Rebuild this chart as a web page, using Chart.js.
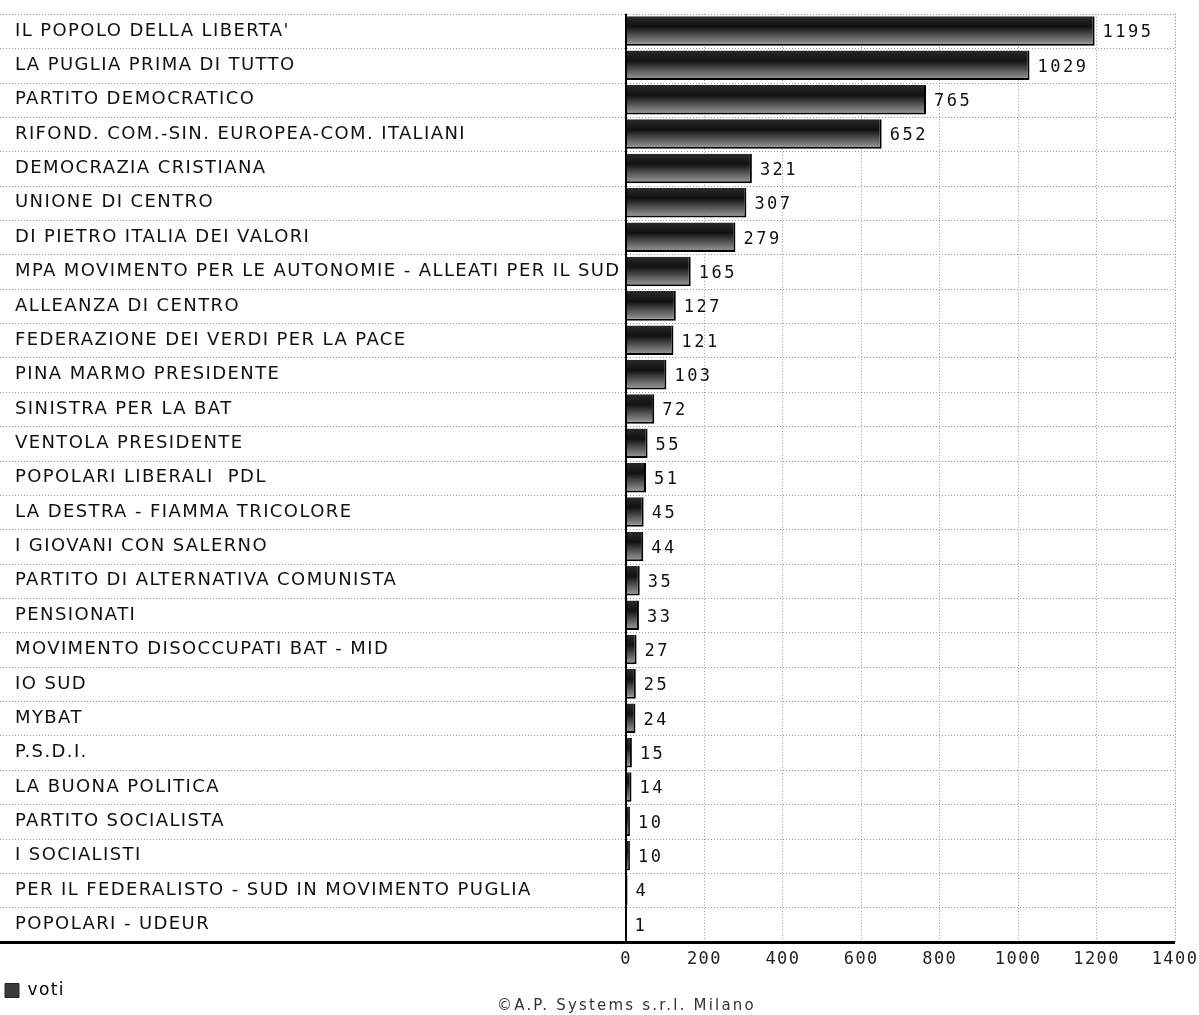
<!DOCTYPE html>
<html>
<head>
<meta charset="utf-8">
<script src="https://cdn.jsdelivr.net/npm/chart.js@4/dist/chart.umd.min.js"></script>
<style>
html,body{margin:0;padding:0;background:#fff;}
#wrap{position:relative;width:1199px;height:1015px;}
#footer{position:absolute;left:497px;top:996px;font-family:"DejaVu Sans",sans-serif;font-size:15px;color:#333;letter-spacing:2.2px;white-space:nowrap;}
</style>
</head>
<body>
<div id="wrap">
<canvas id="c" width="1199" height="1015"></canvas>
<div id="footer">©A.P. Systems s.r.l. Milano</div>
</div>
<script>
const categories = [
  "IL POPOLO DELLA LIBERTA'",
  "LA PUGLIA PRIMA DI TUTTO",
  "PARTITO DEMOCRATICO",
  "RIFOND. COM.-SIN. EUROPEA-COM. ITALIANI",
  "DEMOCRAZIA CRISTIANA",
  "UNIONE DI CENTRO",
  "DI PIETRO ITALIA DEI VALORI",
  "MPA MOVIMENTO PER LE AUTONOMIE - ALLEATI PER IL SUD",
  "ALLEANZA DI CENTRO",
  "FEDERAZIONE DEI VERDI PER LA PACE",
  "PINA MARMO PRESIDENTE",
  "SINISTRA PER LA BAT",
  "VENTOLA PRESIDENTE",
  "POPOLARI LIBERALI  PDL",
  "LA DESTRA - FIAMMA TRICOLORE",
  "I GIOVANI CON SALERNO",
  "PARTITO DI ALTERNATIVA COMUNISTA",
  "PENSIONATI",
  "MOVIMENTO DISOCCUPATI BAT - MID",
  "IO SUD",
  "MYBAT",
  "P.S.D.I.",
  "LA BUONA POLITICA",
  "PARTITO SOCIALISTA",
  "I SOCIALISTI",
  "PER IL FEDERALISTO - SUD IN MOVIMENTO PUGLIA",
  "POPOLARI - UDEUR"
];
const voti = [1195,1029,765,652,321,307,279,165,127,121,103,72,55,51,45,44,35,33,27,25,24,15,14,10,10,4,1];
const seriesName = "voti";
const xTicks = [0,200,400,600,800,1000,1200,1400];

const ctx = document.getElementById('c').getContext('2d');

function barGradient(context){
  const chart = context.chart;
  const ya = chart.scales && chart.scales.y;
  if(!ya || context.dataIndex === undefined) return '#333';
  const yc = ya.getPixelForValue(context.dataIndex);
  const row = Math.abs(ya.getPixelForValue(1) - ya.getPixelForValue(0));
  const h = row * 0.86;
  const top = yc - h/2, bot = yc + h/2;
  if(!isFinite(top) || !isFinite(bot) || top === bot) return '#333';
  const g = chart.ctx.createLinearGradient(0, top, 0, bot);
  g.addColorStop(0, '#2a2a2a');
  g.addColorStop(0.35, '#111');
  g.addColorStop(1, '#a0a0a0');
  return g;
}

const spacingPlugin = {
  id:'spacing',
  beforeDraw(chart){ chart.ctx.letterSpacing = '1.4px'; },
  afterLayout(chart){ if(chart.legend){ chart.legend.left = 1; } }
};

const gridPlugin = {
  id:'fullgrid',
  beforeDatasetsDraw(chart){
    const c = chart.ctx, ya = chart.scales.y, ca = chart.chartArea;
    c.save();
    c.strokeStyle = '#9a9a9a';
    c.lineWidth = 1;
    c.setLineDash([1,2]);
    for(let i=0;i<categories.length;i++){
      const y = Math.round(ya.getPixelForValue(i-0.5))+0.5;
      c.beginPath(); c.moveTo(0,y); c.lineTo(ca.right,y); c.stroke();
    }
    c.beginPath(); c.moveTo(ca.right+0.5,ca.top); c.lineTo(ca.right+0.5,ca.bottom); c.stroke();
    c.restore();
  },
  afterDatasetsDraw(chart){
    const c = chart.ctx, ca = chart.chartArea, meta = chart.getDatasetMeta(0);
    c.save();
    c.setLineDash([]);
    c.strokeStyle = '#000';
    c.lineWidth = 2;
    c.beginPath(); c.moveTo(ca.left, ca.top); c.lineTo(ca.left, ca.bottom); c.stroke();
    c.lineWidth = 3;
    c.beginPath(); c.moveTo(0, ca.bottom+1); c.lineTo(ca.right, ca.bottom+1); c.stroke();
    c.fillStyle = '#111';
    c.font = '17px "DejaVu Sans Mono", monospace';
    c.letterSpacing = '2.5px';
    c.textBaseline = 'middle';
    c.textAlign = 'left';
    meta.data.forEach((bar,i)=>{
      c.fillText(String(voti[i]), bar.x + 8, bar.y + 2);
    });
    c.restore();
  }
};

new Chart(ctx, {
  type:'bar',
  data:{
    labels:categories,
    datasets:[{
      label:seriesName,
      data:voti,
      backgroundColor:barGradient,
      borderColor:'#000',
      borderWidth:{top:0,left:0,right:2,bottom:2},
      borderSkipped:false,
      barPercentage:0.86,
      categoryPercentage:1
    }]
  },
  options:{
    indexAxis:'y',
    responsive:false,
    animation:false,
    devicePixelRatio:1,
    layout:{padding:{left:15,right:24,top:12,bottom:6}},
    scales:{
      x:{
        min:0,max:1400,
        afterBuildTicks(scale){ scale.ticks = xTicks.map(v=>({value:v})); },
        afterFit(scale){ scale.paddingRight = 0; scale.paddingLeft = 0; },
        grid:{color:'#9a9a9a', lineWidth:1, drawTicks:false},
        border:{display:false, dash:[1,2]},
        ticks:{padding:8, color:'#222', font:{family:'"DejaVu Sans Mono", monospace', size:17}, maxRotation:0, autoSkip:false,
               callback:(v)=>String(v)}
      },
      y:{
        afterFit(scale){ scale.width = 611; },
        grid:{display:false, drawTicks:false},
        border:{display:false},
        ticks:{crossAlign:'far', color:'#111', autoSkip:false, font:{family:'"DejaVu Sans", sans-serif', size:18}}
      }
    },
    plugins:{
      legend:{
        position:'bottom', align:'start',
        labels:{boxWidth:14, boxHeight:14, color:'#111', font:{family:'"DejaVu Sans", sans-serif', size:17}, padding:4,
          generateLabels:(chart)=>[{text:seriesName, fillStyle:'#3a3a3a', strokeStyle:'#222', lineWidth:1, datasetIndex:0, hidden:false}]}
      },
      tooltip:{enabled:false}
    }
  },
  plugins:[spacingPlugin, gridPlugin]
});
</script>
</body>
</html>
